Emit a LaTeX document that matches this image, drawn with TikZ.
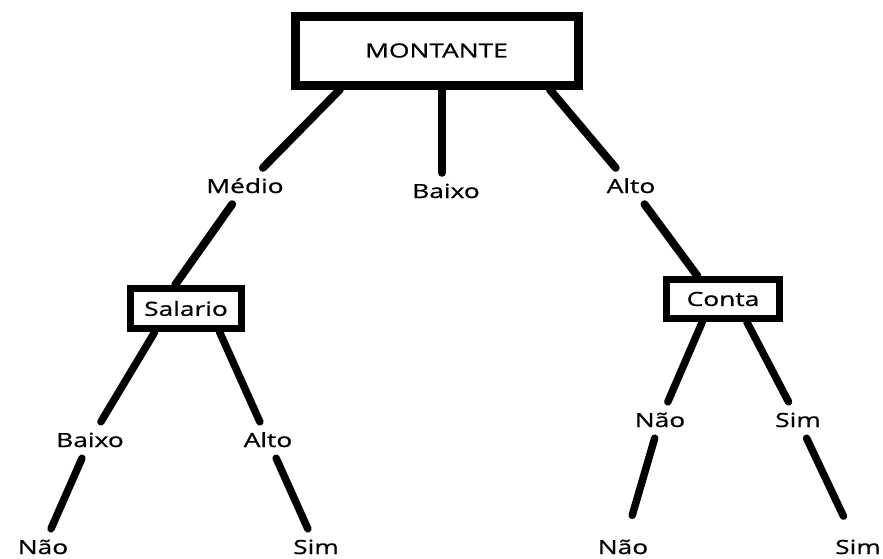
\documentclass[tikz,border=0pt]{standalone}
\usepackage{fontspec}
\setmainfont[FakeStretch=1.35, FakeBold=0.8]{Open Sans}
\begin{document}
\begin{tikzpicture}[x=1pt, y=-1pt,
  lbl/.style={inner xsep=2pt, inner ysep=11pt, text height=14pt, text depth=0pt,
    font=\fontsize{19.5}{20}\selectfont},
  caixa/.style={draw, inner sep=0pt, font=\fontsize{19.5}{20}\selectfont},
  ramo/.style={line width=8pt, line cap=round}]
\useasboundingbox (0,0) rectangle (883,558);

\node[caixa, line width=9pt, minimum width=283pt, minimum height=69pt] (montante) at (436.5, 50.5) {MONTANTE};
\node[caixa, line width=7pt, minimum width=111pt, minimum height=40pt] (salario) at (186, 308.5) {Salario};
\node[caixa, line width=7pt, minimum width=113pt, minimum height=39pt] (conta) at (723, 299) {Conta};

\node[lbl] (medio) at (245, 186) {Médio};
\node[lbl] (baixom) at (446, 191) {Baixo};
\node[lbl] (altom) at (631, 186) {Alto};
\node[lbl] (baixos) at (90, 440) {Baixo};
\node[lbl] (altos) at (268, 440) {Alto};
\node[lbl] (naoc) at (660, 420) {Não};
\node[lbl] (simc) at (798, 420) {Sim};
\node[lbl] (naos) at (43, 547) {Não};
\node[lbl] (sims) at (316, 547) {Sim};
\node[lbl] (naob) at (623, 547) {Não};
\node[lbl] (simb) at (858, 547) {Sim};

\draw[ramo] (montante.202) -- (medio);
\draw[ramo] (medio) -- (salario.115);
\draw[ramo] (montante.278) -- (montante.278 |- baixom.north);
\draw[ramo] (montante.341) -- (altom);
\draw[ramo] (altom) -- (conta.138);

\draw[ramo, line width=7.5pt] (salario.217) -- (baixos);
\draw[ramo, line width=7.5pt] (baixos) -- (naos);
\draw[ramo, line width=7.5pt] (salario.325) -- (altos);
\draw[ramo, line width=7.5pt] (altos) -- (sims);
\draw[ramo, line width=7.5pt] (conta.228) -- (naoc);
\draw[ramo, line width=7.5pt, shorten >=14pt] (naoc) -- (naob);
\draw[ramo, line width=7.5pt] (conta.316) -- (simc);
\draw[ramo, line width=7.5pt, shorten >=14pt] (simc) -- (simb);
\end{tikzpicture}
\end{document}
